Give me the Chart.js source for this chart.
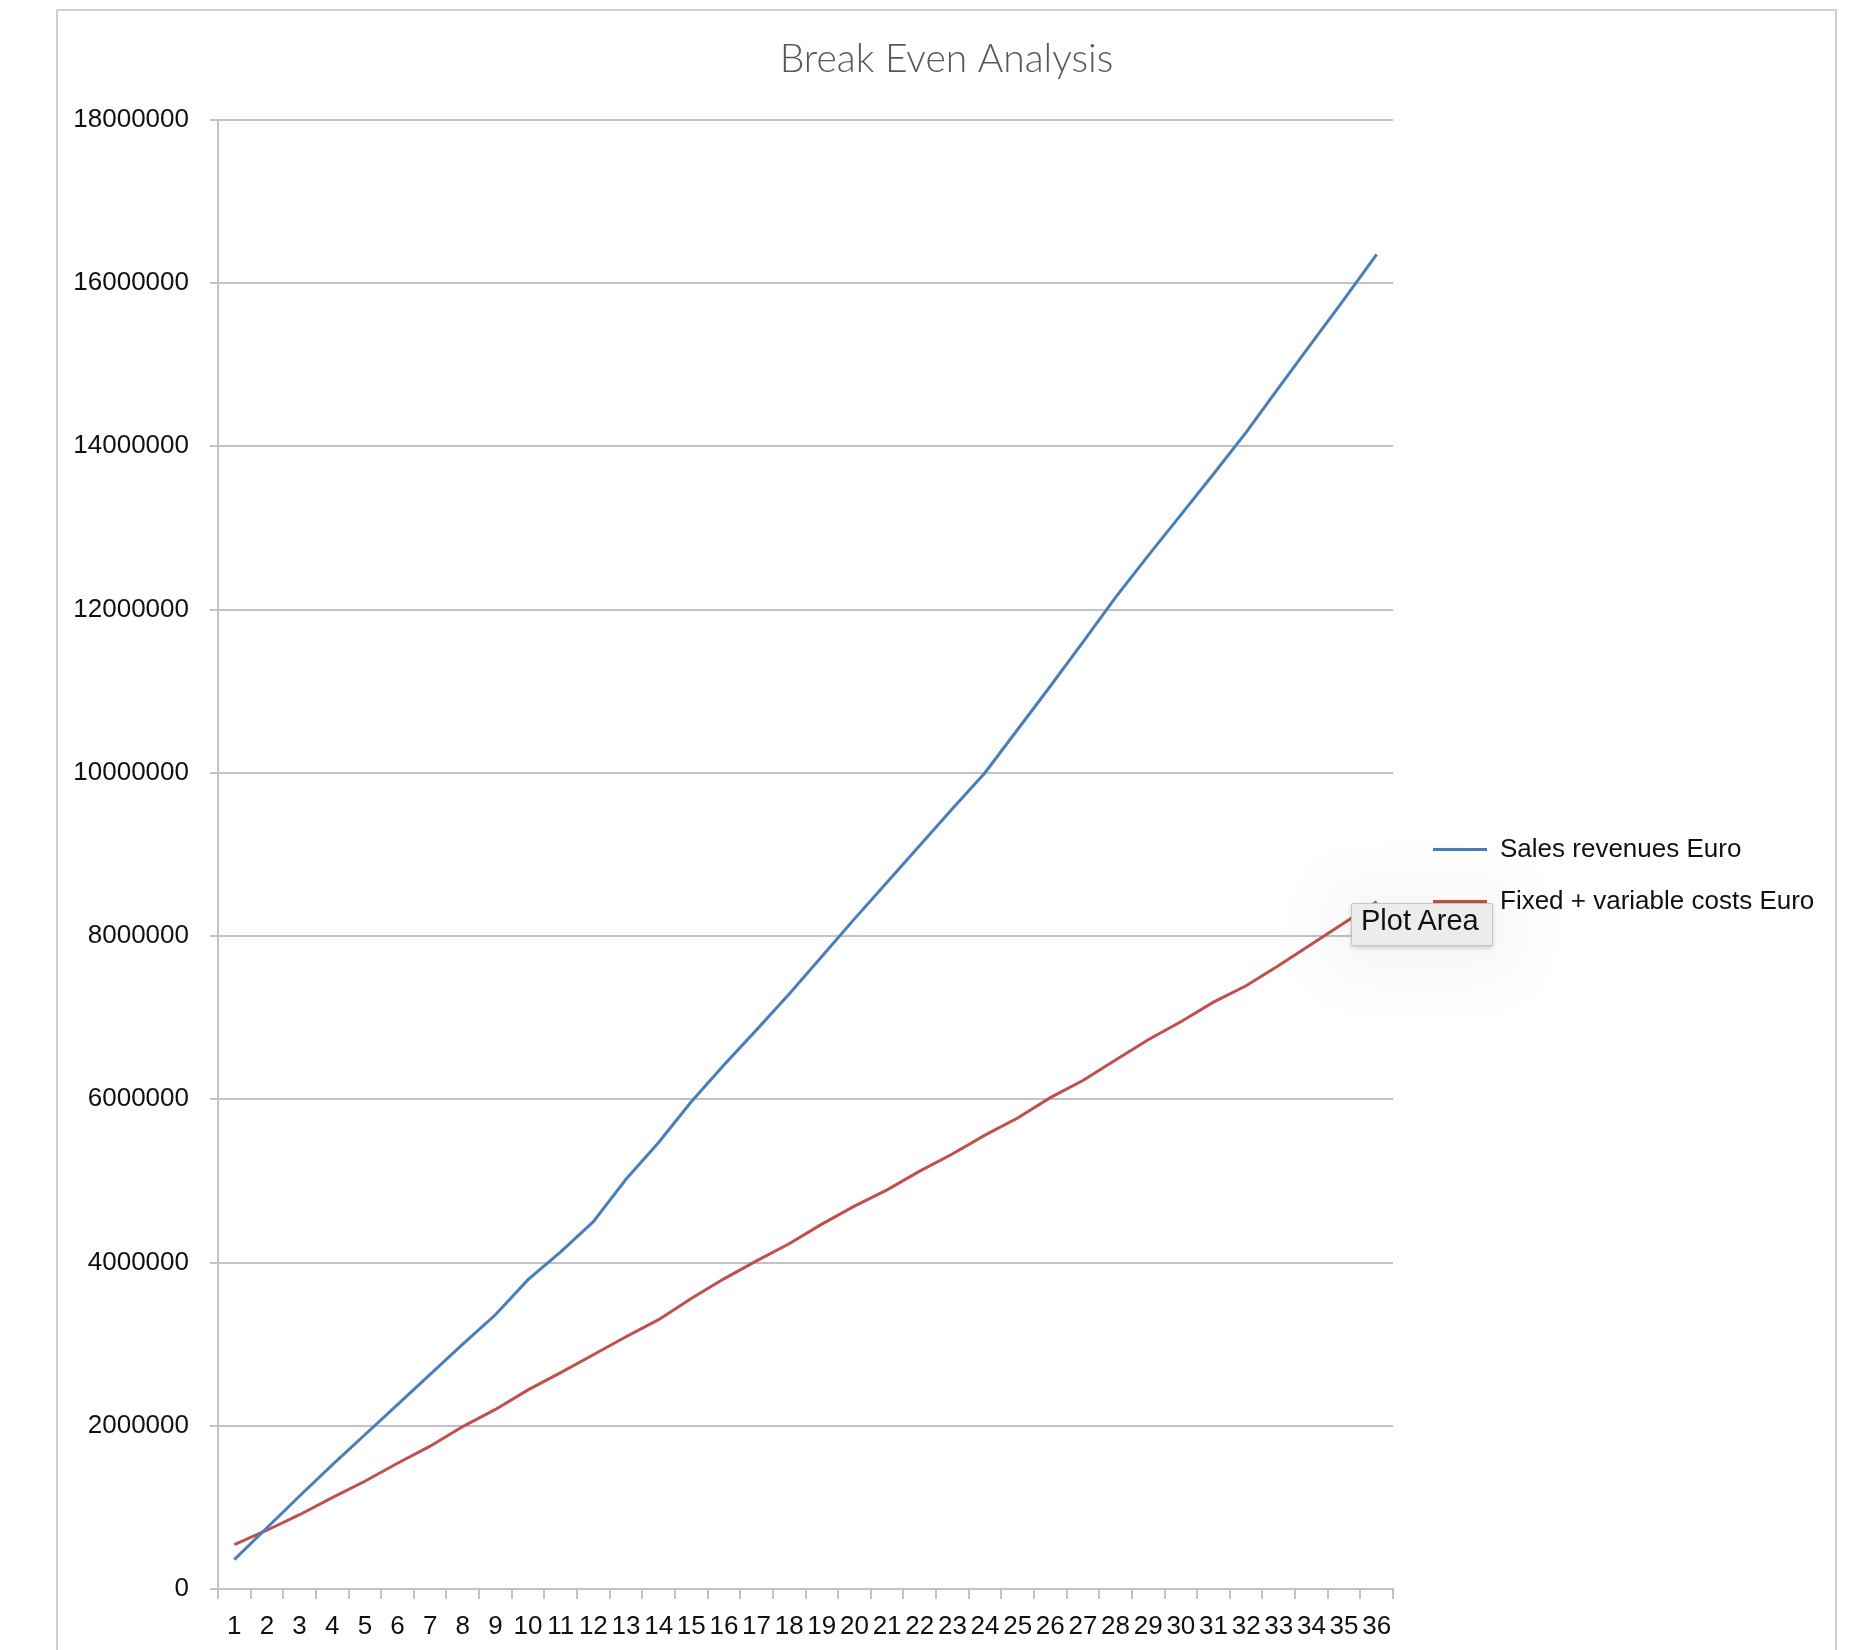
<!DOCTYPE html>
<html lang="en">
<head>
  <meta charset="UTF-8">
  <title>Break Even Analysis</title>
  <script src="https://cdn.jsdelivr.net/npm/chart.js"></script>
  <style>
    html, body {
      margin: 0;
      padding: 0;
      background: #fff;
      overflow: hidden;
    }
    body {
      position: relative;
      width: 1850px;
      height: 1650px;
    }
    #frame {
      position: absolute;
      left: 56px;
      top: 9px;
      width: 1777px;
      height: 1700px;
      border: 2px solid #cfcfcf;
    }
    #chart-container {
      position: absolute;
      left: 0;
      top: 0;
      width: 1777px;
      height: 1639px;
    }
    /* the "Plot Area" hover label seen in the screenshot */
    #plot-area-tip {
      position: absolute;
      left: 1351px;
      top: 903px;
      width: 142px;
      height: 43px;
      box-sizing: border-box;
      padding-left: 9px;
      line-height: 41px;
      font: 29px "Liberation Sans", Arial, sans-serif;
      color: #111;
      background: #ececec;
      border: 1px solid #c4c4c4;
      border-radius: 2px;
      box-shadow: 0 2px 4px rgba(0,0,0,0.18), 0 6px 60px 30px rgba(0,0,0,0.035);
    }
  </style>
</head>
<body>
  <div id="frame">
    <div id="chart-container">
      <canvas id="breakEvenChart"></canvas>
    </div>
  </div>
  <div id="plot-area-tip">Plot Area</div>

  <script>
    // Periods 1..36
    const periods = ["1","2","3","4","5","6","7","8","9","10","11","12","13","14","15","16","17","18",
                     "19","20","21","22","23","24","25","26","27","28","29","30","31","32","33","34","35","36"];

    const seriesNames = ["Sales revenues Euro", "Fixed + variable costs Euro"];

    // Sales revenues (Euro)
    const salesRevenues = [
      360000, 750000, 1140000, 1520000, 1890000, 2260000, 2630000, 3000000, 3360000, 3790000,
      4130000, 4500000, 5020000, 5470000, 5970000, 6420000, 6850000, 7290000, 7750000, 8210000,
      8660000, 9110000, 9560000, 10000000, 10530000, 11060000, 11600000, 12150000, 12660000, 13160000,
      13660000, 14170000, 14720000, 15260000, 15800000, 16350000
    ];

    // Fixed + variable costs (Euro)
    const totalCosts = [
      545000, 720000, 910000, 1120000, 1320000, 1540000, 1750000, 1990000, 2200000, 2440000,
      2650000, 2870000, 3090000, 3300000, 3560000, 3800000, 4020000, 4230000, 4470000, 4690000,
      4890000, 5120000, 5330000, 5560000, 5770000, 6020000, 6230000, 6480000, 6730000, 6950000,
      7190000, 7390000, 7640000, 7900000, 8160000, 8420000
    ];

    // Value axis
    const yMin = 0;
    const yMax = 18000000;
    const yStep = 2000000;

    const fontFamily = '"Liberation Sans", Arial, sans-serif';
    const gridColor = "#c2c2c2";

    Chart.defaults.font.family = fontFamily;
    Chart.defaults.color = "#111";

    // legend geometry
    const legendFontSize = 26;
    const legendBox = 54;
    const legendPad = 26;
    const spacerWidth = 14;

    // Work out side padding so the plot area ends where it does in the picture
    const measureCtx = document.createElement("canvas").getContext("2d");
    measureCtx.font = legendFontSize + "px " + fontFamily;
    const longestLabel = Math.max(...seriesNames.map(n => measureCtx.measureText(n).width));
    const legendWidth = legendPad + legendBox + legendFontSize / 2 + longestLabel + 10;
    const sidePad = Math.min(14, Math.max(0, 1777 - 1335 - spacerWidth - legendWidth));

    const ctx = document.getElementById("breakEvenChart").getContext("2d");

    new Chart(ctx, {
      type: "line",
      data: {
        labels: periods,
        datasets: [
          {
            label: seriesNames[0],
            data: salesRevenues,
            borderColor: "#4a7ebb",
            backgroundColor: "#4a7ebb",
            borderWidth: 3,
            pointRadius: 0,
            tension: 0
          },
          {
            label: seriesNames[1],
            data: totalCosts,
            borderColor: "#c0504d",
            backgroundColor: "#c0504d",
            borderWidth: 3,
            pointRadius: 0,
            tension: 0
          }
        ]
      },
      options: {
        responsive: true,
        maintainAspectRatio: false,
        animation: false,
        events: [],
        layout: {
          // same on both sides so the title stays centred on the frame
          padding: { left: sidePad, top: 0, right: sidePad, bottom: 0 }
        },
        plugins: {
          tooltip: { enabled: false },
          title: {
            display: true,
            text: "Break Even Analysis",
            color: "#595959",
            font: { family: "Lato, " + fontFamily, size: 39, weight: 300 },
            padding: { top: 25, bottom: 37 }
          },
          legend: {
            position: "right",
            fullSize: false,
            align: "center",
            maxWidth: 700,
            // empty title only nudges the entries down a bit
            title: { display: true, text: " ", font: { size: 12 }, padding: 14 },
            labels: {
              boxWidth: legendBox,
              boxHeight: 3,
              padding: legendPad,
              color: "#111",
              font: { size: legendFontSize },
              generateLabels: chart =>
                Chart.defaults.plugins.legend.labels.generateLabels(chart).map(l => ({ ...l, lineWidth: 0 }))
            }
          }
        },
        scales: {
          x: {
            offset: true,
            grid: {
              offset: true,
              drawOnChartArea: false,
              drawTicks: true,
              tickLength: 10,
              color: gridColor,
              lineWidth: 2
            },
            border: { display: true, color: gridColor, width: 2 },
            ticks: {
              autoSkip: false,
              maxRotation: 0,
              minRotation: 0,
              padding: 12,
              color: "#111",
              font: { size: 26 }
            },
            afterFit: scale => { scale.height = 61; }
          },
          y: {
            min: yMin,
            max: yMax,
            grid: {
              color: gridColor,
              lineWidth: 2,
              drawTicks: true,
              tickLength: 8
            },
            border: { display: true, color: gridColor, width: 2 },
            ticks: {
              stepSize: yStep,
              padding: 21,
              color: "#111",
              font: { size: 26 },
              callback: value => String(value)
            },
            afterFit: scale => { scale.width = 160 - sidePad; }
          },
          // invisible spacer between plot area and legend
          spacer: {
            type: "linear",
            position: "right",
            display: true,
            grid: { display: false },
            border: { display: false },
            ticks: { display: false },
            afterFit: scale => { scale.width = spacerWidth; }
          }
        }
      }
    });
  </script>
</body>
</html>
